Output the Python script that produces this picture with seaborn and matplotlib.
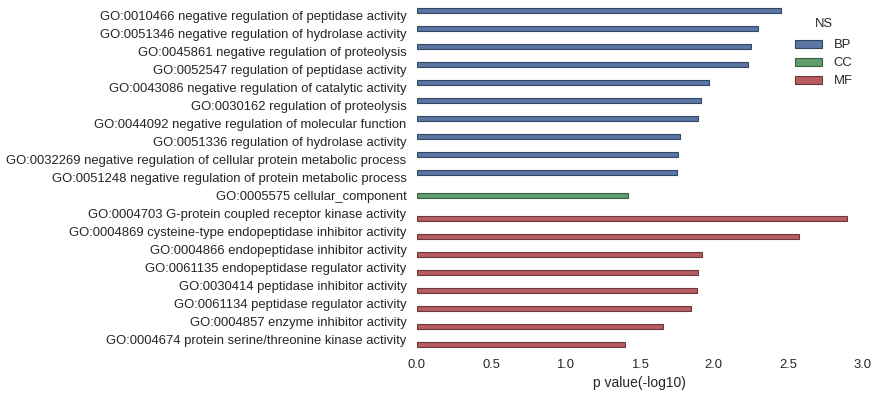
import matplotlib
matplotlib.use("Agg")
import matplotlib.pyplot as plt
import matplotlib.colors as mcolors
import seaborn as sns
import pandas as pd
import numpy as np

terms = [
    "GO:0010466 negative regulation of peptidase activity",
    "GO:0051346 negative regulation of hydrolase activity",
    "GO:0045861 negative regulation of proteolysis",
    "GO:0052547 regulation of peptidase activity",
    "GO:0043086 negative regulation of catalytic activity",
    "GO:0030162 regulation of proteolysis",
    "GO:0044092 negative regulation of molecular function",
    "GO:0051336 regulation of hydrolase activity",
    "GO:0032269 negative regulation of cellular protein metabolic process",
    "GO:0051248 negative regulation of protein metabolic process",
    "GO:0005575 cellular_component",
    "GO:0004703 G-protein coupled receptor kinase activity",
    "GO:0004869 cysteine-type endopeptidase inhibitor activity",
    "GO:0004866 endopeptidase inhibitor activity",
    "GO:0061135 endopeptidase regulator activity",
    "GO:0030414 peptidase inhibitor activity",
    "GO:0061134 peptidase regulator activity",
    "GO:0004857 enzyme inhibitor activity",
    "GO:0004674 protein serine/threonine kinase activity",
]
ns = ["BP"] * 10 + ["CC"] + ["MF"] * 8
pvals = [2.452, 2.299, 2.250, 2.232, 1.969, 1.915, 1.895, 1.773, 1.760, 1.753,
         1.423,
         2.897, 2.576, 1.922, 1.895, 1.888, 1.848, 1.659, 1.403]
ns_order = ["BP", "CC", "MF"]
colors = ["#4C72B0", "#55A868", "#C44E52"]

df = pd.DataFrame({"term": terms, "NS": ns, "p": pvals})

sns.set_theme(style="white")
plt.rcParams["font.family"] = ["Liberation Sans", "DejaVu Sans"]
plt.rcParams["text.color"] = "#262626"
plt.rcParams["axes.labelcolor"] = "#262626"
plt.rcParams["xtick.color"] = "#262626"
plt.rcParams["ytick.color"] = "#262626"

fig = plt.figure(figsize=(8.79, 3.97), dpi=100)
ax = fig.add_axes([417 / 879, 1 - 349 / 397, (862 - 417) / 879, (349 - 6) / 397])

sns.barplot(data=df, x="p", y="term", hue="NS", hue_order=ns_order, order=terms,
            palette=colors, saturation=0.75, orient="h", dodge=True, ax=ax,
            legend=True)

for patch in ax.patches:
    fc = np.array(mcolors.to_rgb(patch.get_facecolor()))
    patch.set_edgecolor(tuple(fc * 0.6))
    patch.set_linewidth(0.8)

ax.set_xlim(0, 3.0)
ax.set_xticks([0.0, 0.5, 1.0, 1.5, 2.0, 2.5, 3.0])
ax.set_xticklabels(["0.0", "0.5", "1.0", "1.5", "2.0", "2.5", "3.0"])
ax.set_xlabel("p value(-log10)", fontsize=10)
ax.set_ylabel("")
ax.tick_params(axis="both", labelsize=9.35, length=0, pad=7)
ax.tick_params(axis="y", pad=7.5)
for s in ax.spines.values():
    s.set_visible(False)

leg = ax.legend(title="NS", loc="upper right", bbox_to_anchor=(1.005, 1.0),
                frameon=False, fontsize=9.35, title_fontsize=9.35,
                handlelength=2.1, handleheight=0.6, labelspacing=0.46,
                handletextpad=0.85)
leg._legend_box.sep = 7

fig.savefig("out.png", dpi=100)
